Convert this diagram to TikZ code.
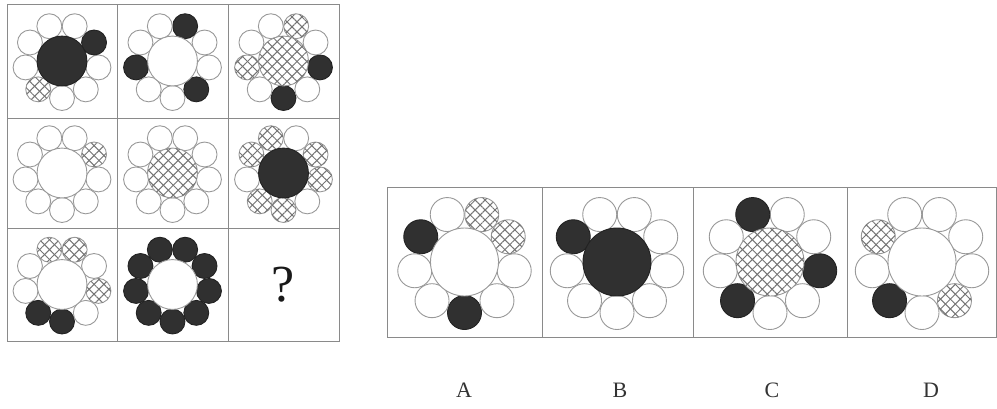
\documentclass[tikz,border=0pt]{standalone}
\usepackage{fontspec}
\setmainfont{Liberation Serif}
\usetikzlibrary{patterns.meta}
\definecolor{lg}{HTML}{999999}
\definecolor{dk}{HTML}{303030}
\definecolor{hc}{HTML}{747474}
\definecolor{fr}{HTML}{8A8A8A}
\tikzset{
  cw/.style={draw=lg, line width=0.9pt, fill=white},
  cd/.style={draw=dk!70!black, line width=0.9pt, fill=dk},
  ch/.style={draw=lg, line width=0.9pt, fill=white,
    postaction={pattern={Lines[angle=45,distance=7pt,line width=1pt]}, pattern color=hc},
    postaction={pattern={Lines[angle=-45,distance=7pt,line width=1pt]}, pattern color=hc}},
  frame/.style={draw=fr, line width=1pt},
  lbl/.style={font=\fontsize{22}{26}\selectfont, text=black!80},
  qm/.style={font=\fontsize{52}{60}\selectfont, text=black!90}
}
% #1 x, #2 y, #3 scale, #4 centre type, #5 petal types at screen angles 270,310,350,30,70,110,150,190,230
\newcommand\flower[5]{%
  \begin{scope}[shift={(#1,#2)}]
    \foreach \t [count=\k from 0] in {#5} {
      \path[c\t] ({-(270+40*\k)}:{50.5*#3}) circle[radius={17*#3}];
    }
    \path[c#4] (0,0) circle[radius={34*#3}];
  \end{scope}
}
\begin{document}
\begin{tikzpicture}[x=1pt,y=-1pt]
  \path[fill=white, use as bounding box] (0,0) rectangle (997,408);
  % grid frame
  \draw[frame] (7,4) rectangle (339,341);
  \draw[frame] (117,4) -- (117,341) (228,4) -- (228,341)
               (7,118) -- (339,118) (7,228) -- (339,228);
  % options frame
  \draw[frame] (387,187) rectangle (996,337);
  \draw[frame] (542,187) -- (542,337) (693,187) -- (693,337) (847,187) -- (847,337);

  \def\s{0.733}
  % row 1
  \flower{62}{61}{\s}{d}{w,w,w,d,w,w,w,w,h}
  \flower{172.5}{61}{\s}{w}{w,d,w,w,d,w,w,d,w}
  \flower{283.5}{61}{\s}{h}{d,w,d,w,h,w,w,h,w}
  % row 2
  \flower{62}{173}{\s}{w}{w,w,w,h,w,w,w,w,w}
  \flower{172.5}{173}{\s}{h}{w,w,w,w,w,w,w,w,w}
  \flower{283.5}{173}{\s}{d}{h,w,h,h,w,h,h,w,h}
  % row 3
  \flower{62}{284.5}{\s}{w}{d,w,h,w,h,h,w,w,d}
  \flower{172.5}{284.5}{\s}{w}{d,d,d,d,d,d,d,d,d}
  \node[qm] (q) at (283.5,285) {?};

  % options
  \flower{464.5}{262}{1}{w}{d,w,w,h,h,w,d,w,w}
  \flower{617}{262}{1}{d}{w,w,w,w,w,w,d,w,w}
  \flower{770}{262}{1}{h}{w,w,d,w,w,d,w,w,d}
  \flower{922}{262}{1}{w}{w,h,w,w,w,w,h,w,d}

  \node[lbl] (la) at (464,390) {A};
  \node[lbl] (lb) at (620,390) {B};
  \node[lbl] (lc) at (772,390) {C};
  \node[lbl] (ld) at (931,390) {D};
\end{tikzpicture}
\end{document}
